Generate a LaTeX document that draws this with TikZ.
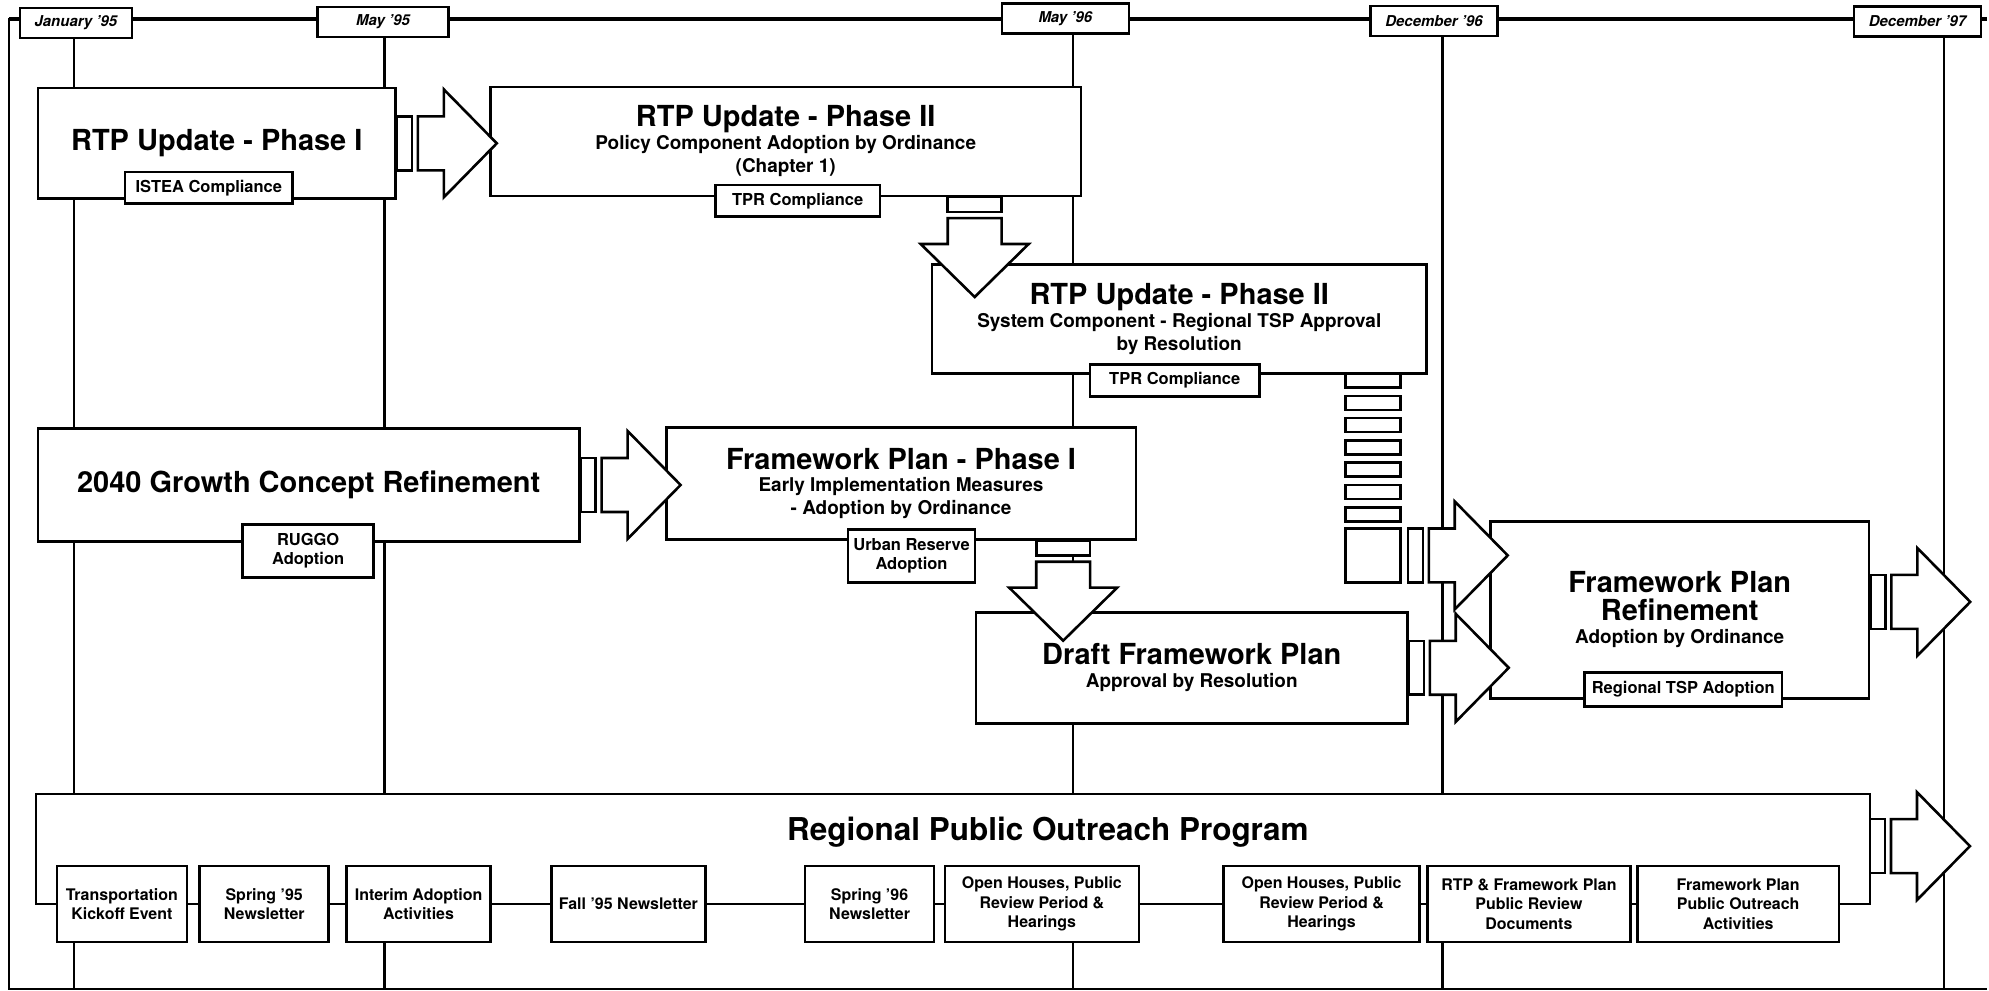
\documentclass[tikz,border=0pt]{standalone}
\usepackage{fontspec}
\setmainfont{TeX Gyre Heros}
\usetikzlibrary{calc}
\newcommand{\tbig}{\fontsize{29}{28}\selectfont}
\newcommand{\tsub}{\fontsize{19}{23}\selectfont}
\tikzset{
  datebox/.style={draw, fill=white, inner sep=0pt, minimum height=30pt, font=\fontsize{15}{17}\selectfont\bfseries\itshape},
  stagebox/.style={draw, fill=white, inner sep=0pt, align=center, font=\tsub\bfseries},
  tagbox/.style={draw, fill=white, inner sep=0pt, align=center, font=\fontsize{16.5}{19}\selectfont\bfseries},
  eventbox/.style={draw, fill=white, inner sep=0pt, align=center, minimum height=76pt, font=\fontsize{16}{19.5}\selectfont\bfseries},
  blockarrow/.pic={
    \draw[fill=white] (0,-27) rectangle (15,27);
    \draw[fill=white] (21,-27) -- (47,-27) -- (47,-54) -- (100,0) -- (47,54) -- (47,27) -- (21,27) -- cycle;
  }
}
\begin{document}
\begin{tikzpicture}[x=1pt,y=-1pt,line width=2.6pt]
\fill[white] (0,0) rectangle (1989,991);
\draw (1989,990) -- (9,990) -- (9,19) -- (1989,19);
\draw[line width=4.2pt] (9,19) -- (1989,19);
\node[datebox, minimum width=112pt] (jan95) at (76,23) {January '95};
\node[datebox, minimum width=131pt] (may95) at (383.5,22) {May '95};
\node[datebox, minimum width=127pt] (may96) at (1066.5,18.5) {May '96};
\node[datebox, minimum width=127pt] (dec96) at (1435.5,21) {December '96};
\node[datebox, minimum width=127pt] (dec97) at (1919.5,21.5) {December '97};
\coordinate (base) at (0,990);
\foreach \d/\x in {jan95/74,may95/385,may96/1074,dec96/1444,dec97/1946}
  \draw (\d.south -| \x,0) -- (\x,0 |- base);
\node[stagebox, minimum width=358pt, minimum height=111pt] (rtp1) at (217,143.5) {\tbig RTP Update - Phase I};
\node[tagbox, minimum width=168pt, minimum height=32pt] (istea) at (209,188) {ISTEA Compliance};
\node[stagebox, minimum width=591pt, minimum height=109pt] (rtp2) at (786.5,141.5) {{\tbig RTP Update - Phase II}\\ Policy Component Adoption by Ordinance\\ (Chapter 1)};
\node[tagbox, minimum width=165pt, minimum height=32pt] (tpr2) at (798.5,201) {TPR Compliance};
\node[stagebox, minimum width=495pt, minimum height=109pt] (rtp3) at (1180.5,319.5) {{\tbig RTP Update - Phase II}\\ System Component - Regional TSP Approval\\ by Resolution};
\node[tagbox, minimum width=170pt, minimum height=32pt] (tpr3) at (1176,381) {TPR Compliance};
\node[stagebox, minimum width=542pt, minimum height=113pt] (grow) at (309,485.5) {\tbig 2040 Growth Concept Refinement};
\node[tagbox, minimum width=131pt, minimum height=53pt] (ruggo) at (308.5,551.5) {RUGGO\\Adoption};
\node[stagebox, minimum width=470pt, minimum height=112pt] (fwp1) at (902,484) {{\tbig Framework Plan - Phase I}\\ Early Implementation Measures\\ - Adoption by Ordinance};
\node[tagbox, minimum width=127pt, minimum height=53pt] (urban) at (912.5,556.5) {Urban Reserve\\Adoption};
\node[stagebox, minimum width=432pt, minimum height=111pt] (draft) at (1193,668.5) {{\tbig Draft Framework Plan}\\ Approval by Resolution};
\node[stagebox, minimum width=379pt, minimum height=177pt] (fwref) at (1681.5,610.5) {{\tbig Framework Plan}\\[5pt] {\tbig Refinement}\\ Adoption by Ordinance};
\node[tagbox, minimum width=198pt, minimum height=34pt] (tsp) at (1685,690) {Regional TSP Adoption};
\foreach \k in {0,...,6}
  \draw[fill=white] (1347,{374+22.3*\k}) rectangle +(55,14);
\node[draw, fill=white, inner sep=0pt, minimum width=55pt, minimum height=54pt] (sq) at (1374.5,556) {};
\pic at (rtp1.east) {blockarrow};
\pic at (grow.east) {blockarrow};
\pic at ($(sq.east)+(6,0)$) {blockarrow};
\pic at (draft.east) {blockarrow};
\pic at ($(fwref.east)+(0,-8)$) {blockarrow};
\pic[rotate=-90] at ($(rtp2.south west)+(486,0)$) {blockarrow};
\pic[rotate=-90] at ($(fwp1.south east)+(-74,0)$) {blockarrow};
\coordinate (otl) at (36,795);
\coordinate (otr) at (1872,795);
\fill[white] (otl) rectangle (1872,906);
\node[font=\fontsize{31.5}{32}\selectfont\bfseries] (outreach) at (1049,833) {Regional Public Outreach Program};
\node[eventbox, minimum width=130pt] (k1) at (122,905) {Transportation\\Kickoff Event};
\node[eventbox, minimum width=129pt] (k2) at (264.5,905) {Spring '95\\Newsletter};
\node[eventbox, minimum width=144pt] (k3) at (419,905) {Interim Adoption\\Activities};
\node[eventbox, minimum width=154pt] (k4) at (629,905) {Fall '95 Newsletter};
\node[eventbox, minimum width=129pt] (k5) at (870.5,905) {Spring '96\\Newsletter};
\node[eventbox, minimum width=194pt] (k6) at (1043,905) {Open Houses, Public\\Review Period \&\\Hearings};
\node[eventbox, minimum width=196pt] (k7) at (1323,905) {Open Houses, Public\\Review Period \&\\Hearings};
\node[eventbox, minimum width=203pt] (k8) at (1530.5,905) {RTP \& Framework Plan\\Public Review\\Documents};
\node[eventbox, minimum width=202pt] (k9) at (1740,905) {Framework Plan\\Public Outreach\\Activities};
\draw (k1.west) -| (otl) -- (otr) |- (k9.east);
\foreach \a/\b in {k1/k2,k2/k3,k3/k4,k4/k5,k5/k6,k6/k7,k7/k8,k8/k9}
  \draw (\a.east) -- (\b.west);
\pic at ($(otr)+(0,52)$) {blockarrow};
\end{tikzpicture}
\end{document}
